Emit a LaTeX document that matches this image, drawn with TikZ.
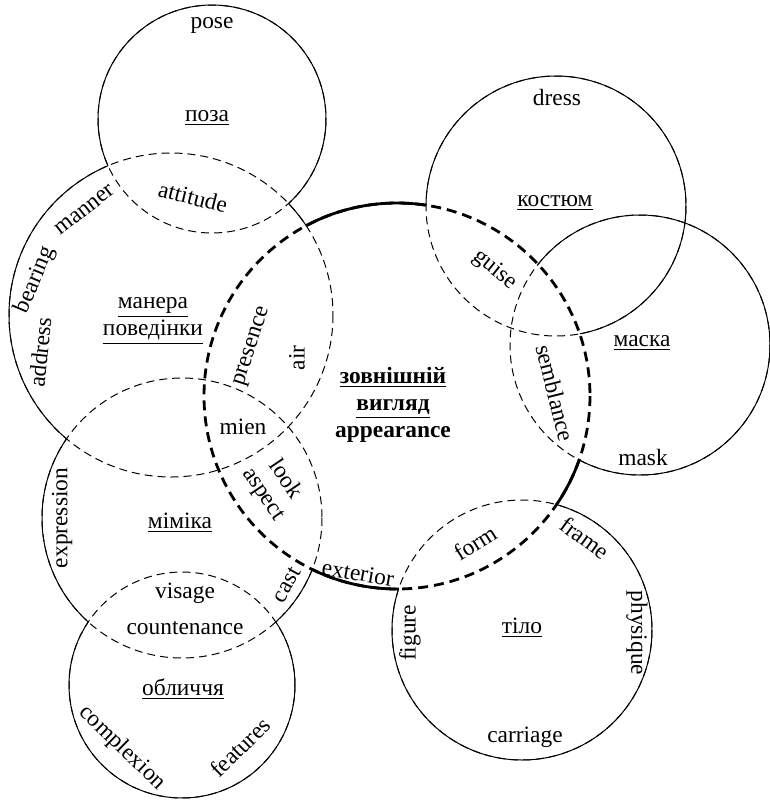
\documentclass[tikz,border=0pt]{standalone}
\usepackage{fontspec}
\setmainfont{Liberation Serif}

% the eight circles
\newcommand{\Cpose}{(212,119) circle (114)}
\newcommand{\Cmanner}{(171,315) circle (162)}
\newcommand{\Cmimika}{(182,518) circle (140)}
\newcommand{\Cface}{(182,685) circle (113)}
\newcommand{\Clook}{(397,396) circle (193)}
\newcommand{\Cdress}{(556,206) circle (130)}
\newcommand{\Cmask}{(640,345) circle (130)}
\newcommand{\Cbody}{(522,630) circle (130)}
% clip away the inside of a circle (scope must use even odd rule)
\newcommand{\clipout}[1]{\clip (-40,-40) rectangle (820,840) #1;}

\begin{document}
\begin{tikzpicture}[
    x=0.5pt, y=-0.5pt,
    word/.style={inner sep=0pt, font=\fontsize{11.7}{13.5}\selectfont},
    concept/.style={word, align=center},
    core/.style={word, align=center, font=\fontsize{11.7}{13.5}\selectfont\bfseries},
    ring/.style={line width=0.5pt},
    ringdash/.style={ring, dash pattern=on 4pt off 2.5pt},
    hub/.style={line width=1.4pt},
    hubdash/.style={hub, dash pattern=on 5pt off 3pt},
]
\useasboundingbox (0,0) rectangle (770,800);

% dashed circles first
\draw[ringdash] \Cpose;
\draw[ringdash] \Cmanner;
\draw[ringdash] \Cmimika;
\draw[ringdash] \Cface;
\draw[ringdash] \Cdress;
\draw[ringdash] \Cmask;
\draw[ringdash] \Cbody;
\draw[hubdash] \Clook;

% solid where no other circle covers them
\begin{scope}[even odd rule]\clipout{\Cmanner}\draw[ring] \Cpose;\end{scope}
\begin{scope}[even odd rule]\clipout{\Cpose}\clipout{\Cmimika}\clipout{\Clook}\draw[ring] \Cmanner;\end{scope}
\begin{scope}[even odd rule]\clipout{\Cmanner}\clipout{\Cface}\clipout{\Clook}\draw[ring] \Cmimika;\end{scope}
\begin{scope}[even odd rule]\clipout{\Cmimika}\draw[ring] \Cface;\end{scope}
\begin{scope}[even odd rule]\clipout{\Clook}\draw[ring] \Cdress;\end{scope}
\begin{scope}[even odd rule]\clipout{\Clook}\draw[ring] \Cmask;\end{scope}
\begin{scope}[even odd rule]\clipout{\Clook}\draw[ring] \Cbody;\end{scope}
\begin{scope}[even odd rule]
  \clipout{\Cmanner}\clipout{\Cmimika}\clipout{\Cdress}\clipout{\Cmask}\clipout{\Cbody}
  \draw[hub] \Clook;
\end{scope}

% centre
\node[core] (look) at (393,405) {\underline{зовнішній}\\\underline{вигляд}\\appearance};

% pose
\node[word] (poseEn) at (212,25) {pose};
\node[concept] (pose) at (207,118) {\underline{поза}};
\node[word, rotate=-14] (attitude) at (193,197) {attitude};

% manner
\node[word, rotate=38] (manner) at (85,210) {manner};
\node[word, rotate=67] (bearing) at (35,280) {bearing};
\node[word, rotate=84] (address) at (40,352) {address};
\node[concept] (mannerUa) at (153,321) {\underline{манера}\\\underline{поведінки}};
\node[word, rotate=72] (presence) at (253,347) {presence};
\node[word, rotate=90] (air) at (297,358) {air};
\node[word] (mien) at (243,427) {mien};

% mimika
\node[word, rotate=-56] (lookEn) at (287,478) {look};
\node[word, rotate=-56] (aspect) at (262,495) {aspect};
\node[word, rotate=90] (expression) at (62,518) {expression};
\node[concept] (mimika) at (180,523) {\underline{міміка}};
\node[word, rotate=61] (cast) at (287,585) {cast};
\node[word, rotate=-10] (exterior) at (358,573) {exterior};
\node[word] (visage) at (185,593) {visage};
\node[word] (countenance) at (185,628) {countenance};

% face
\node[concept] (face) at (183,689) {\underline{обличчя}};
\node[word, rotate=-44] (complexion) at (122,748) {complexion};
\node[word, rotate=44] (features) at (240,747) {features};

% dress and mask
\node[word] (dressEn) at (557,97) {dress};
\node[concept] (dress) at (555,203) {\underline{костюм}};
\node[word, rotate=-39] (guise) at (495,270) {guise};
\node[concept] (mask) at (642,343) {\underline{маска}};
\node[word, rotate=-76] (semblance) at (555,393) {semblance};
\node[word] (maskEn) at (643,457) {mask};

% body
\node[word, rotate=32] (form) at (475,543) {form};
\node[word, rotate=-36] (frame) at (585,538) {frame};
\node[word, rotate=90] (figure) at (410,633) {figure};
\node[concept] (body) at (522,628) {\underline{тіло}};
\node[word, rotate=-90] (physique) at (637,633) {physique};
\node[word] (carriage) at (525,737) {carriage};
\end{tikzpicture}
\end{document}
